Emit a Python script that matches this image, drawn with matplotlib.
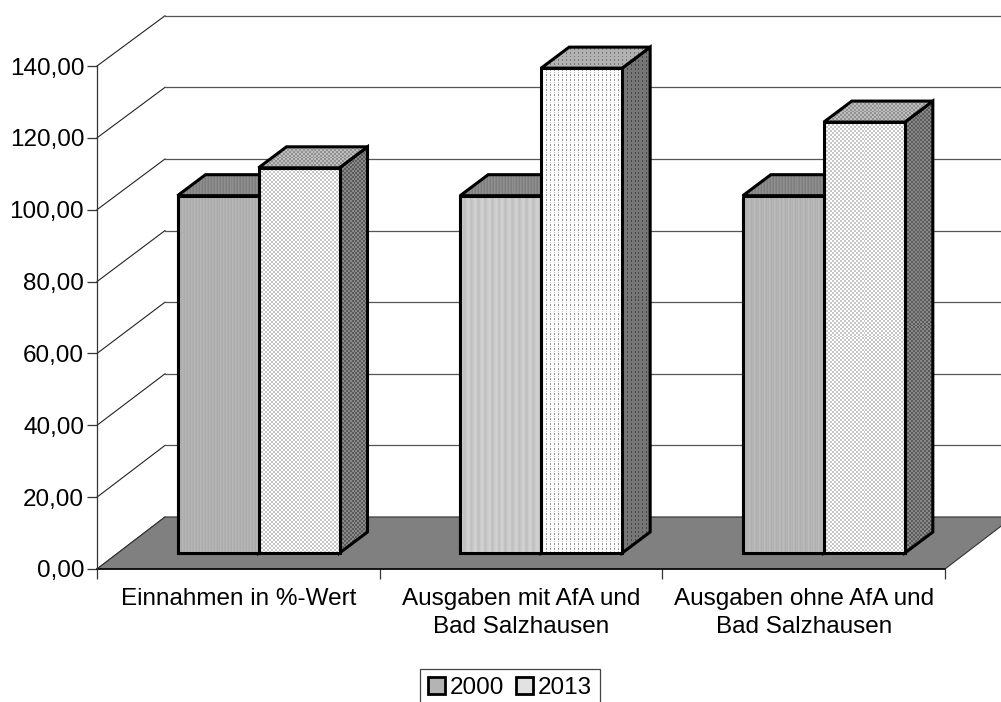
import numpy as np
import matplotlib
matplotlib.use("Agg")
import matplotlib.pyplot as plt
from matplotlib.patches import Polygon, Patch

plt.rcParams["font.family"] = ["Liberation Sans", "DejaVu Sans"]

categories = ["Einnahmen in %-Wert",
              "Ausgaben mit AfA und\nBad Salzhausen",
              "Ausgaben ohne AfA und\nBad Salzhausen"]
series_names = ["2000", "2013"]
values_2000 = [100.0, 100.0, 100.0]
values_2013 = [107.8, 135.7, 120.6]
y_ticks = [0, 20, 40, 60, 80, 100, 120, 140]
y_tick_labels = ["0,00", "20,00", "40,00", "60,00", "80,00", "100,00", "120,00", "140,00"]

W, H = 1001, 702
FONT_SIZE = 17.5
fig = plt.figure(figsize=(W / 100, H / 100), dpi=100, facecolor="white")
# plot box in pixels: x 97..945, y 66..569
ax = fig.add_axes([97 / W, 1 - 569 / H, 848 / W, 503 / H])
ax.set_facecolor("none")

px_x = 3 / 848            # category units per pixel
px_y = 140 / 503          # value units per pixel
WALL_DX, WALL_DY = 68 * px_x, 52 * px_y
WALL_SCALE = 0.9965
BAR_DX, BAR_DY = 19.5 * px_x, 16 * px_y
DEPTH_DX, DEPTH_DY = 28 * px_x, 21 * px_y
BAR_SCALE = 0.9945
GAP = 61 * px_x
BAR_W = 81 * px_x
FLOOR_GRAY = "#808080"


def tile(rows):
    return np.array(rows, dtype=float) / 255


CHECK_FRONT = tile([[255, 255, 198, 198], [255, 255, 198, 198],
                    [198, 198, 255, 255], [198, 198, 255, 255]])
DOT_FRONT = tile([[255, 255, 255, 255], [255, 150, 255, 255], [255, 150, 255, 255],
                  [255, 255, 255, 255], [255, 205, 255, 255]])
CHECK_TOP = tile([[190, 190, 145, 145], [190, 190, 145, 145],
                  [145, 145, 190, 190], [145, 145, 190, 190]])
CHECK_SIDE = tile([[136, 136, 92, 92], [136, 136, 92, 92],
                   [92, 92, 136, 136], [92, 92, 136, 136]])
DOT_TOP = tile([[178, 178, 178, 178], [178, 120, 178, 178], [178, 120, 178, 178],
                [178, 178, 178, 178]])
DOT_SIDE = tile([[118, 118, 118, 118], [118, 70, 118, 118], [118, 70, 118, 118],
                 [118, 118, 118, 118]])
STRIPE_A = tile([[172, 182, 176]])
STRIPE_B = tile([[206, 210, 204, 196, 192, 196, 204]])
STRIPE_C = tile([[178, 188, 182, 174, 182]])
STRIPE_TOP = tile([[126, 142, 134]])

FRONT_2000 = [STRIPE_A, STRIPE_B, STRIPE_C]
FRONT_2013 = [CHECK_FRONT, DOT_FRONT, CHECK_FRONT]
TOP_2013 = [CHECK_TOP, DOT_TOP, CHECK_TOP]
SIDE_2013 = [CHECK_SIDE, DOT_SIDE, CHECK_SIDE]


def textured_poly(points, pattern, z):
    """Fill a polygon given in data coordinates with a pixel-aligned repeating pattern."""
    pts = np.array(points)
    poly = Polygon(pts, closed=True, transform=ax.transData, facecolor="none",
                   edgecolor="black", linewidth=2.2, joinstyle="miter", zorder=z + 0.1)
    ax.add_patch(poly)
    poly.set_clip_on(False)
    l, r = pts[:, 0].min(), pts[:, 0].max()
    b, t = pts[:, 1].min(), pts[:, 1].max()
    nx = int(round((r - l) / px_x)) + 1
    ny = int(round((t - b) / px_y)) + 1
    tiled = np.tile(pattern, (ny // pattern.shape[0] + 1, nx // pattern.shape[1] + 1))[:ny, :nx]
    im = ax.imshow(tiled, cmap="gray", vmin=0, vmax=1, extent=(l, r, b, t),
                   aspect="auto", interpolation="nearest", zorder=z)
    im.set_clip_path(Polygon(pts, closed=True, transform=ax.transData))
    im.set_clip_box(fig.bbox)


def draw_bar(left, value, front, top, side, z):
    x0 = left + BAR_DX
    x1 = x0 + BAR_W
    y0 = BAR_DY
    y1 = BAR_DY + value * BAR_SCALE
    textured_poly([(x1, y0), (x1 + DEPTH_DX, y0 + DEPTH_DY),
                   (x1 + DEPTH_DX, y1 + DEPTH_DY), (x1, y1)], side, z)
    textured_poly([(x0, y1), (x1, y1), (x1 + DEPTH_DX, y1 + DEPTH_DY),
                   (x0 + DEPTH_DX, y1 + DEPTH_DY)], top, z + 0.2)
    textured_poly([(x0, y0), (x1, y0), (x1, y1), (x0, y1)], front, z + 0.4)


# back wall: gridlines with their diagonal returns to the value axis
far_right = 3 + WALL_DX
for v in y_ticks:
    y_back = v * WALL_SCALE + WALL_DY
    ax.plot([0, WALL_DX], [v, y_back], color="#222222", lw=0.8, clip_on=False, zorder=1)
    ax.plot([WALL_DX, far_right], [y_back, y_back], color="#555555", lw=0.9, clip_on=False, zorder=1)

# floor
ax.add_patch(Polygon([(0, 0), (3, 0), (far_right, WALL_DY), (WALL_DX, WALL_DY)], closed=True,
                     facecolor=FLOOR_GRAY, edgecolor="#333333", linewidth=0.8,
                     clip_on=False, zorder=2))
ax.plot([0, 3], [0, 0], color="black", lw=1.1, clip_on=False, zorder=2.5)

# bars, one group per category, drawn back to front
for i, (a, b) in enumerate(zip(values_2000, values_2013)):
    left = i + GAP
    draw_bar(left, a, STRIPE_TOP, STRIPE_TOP, CHECK_SIDE, 3 + i)
    draw_bar(left + BAR_W, b, FRONT_2013[i], TOP_2013[i], SIDE_2013[i], 3.6 + i)
    # re-paint the 2000 face so its right edge stays crisp
    x0 = left + BAR_DX
    y1 = BAR_DY + a * BAR_SCALE
    textured_poly([(x0, BAR_DY), (x0 + BAR_W, BAR_DY), (x0 + BAR_W, y1), (x0, y1)],
                  FRONT_2000[i], 4.3 + i)

ax.set_xlim(0, 3)
ax.set_ylim(0, 140)

for side in ("top", "right"):
    ax.spines[side].set_visible(False)
ax.spines["left"].set_color("#333333")
ax.spines["left"].set_linewidth(0.9)
ax.spines["bottom"].set_visible(False)

ax.set_yticks(y_ticks)
ax.set_yticklabels(y_tick_labels, fontsize=FONT_SIZE, color="black")
ax.tick_params(axis="y", length=7.2, width=0.9, color="#333333", pad=2)

ax.set_xticks([0, 1, 2, 3])
ax.set_xticklabels([])
ax.tick_params(axis="x", which="major", length=7.2, width=0.9, color="#333333")
ax.set_xticks([0.5, 1.5, 2.5], minor=True)
ax.set_xticklabels(categories, minor=True, fontsize=FONT_SIZE, linespacing=1.34)
ax.tick_params(axis="x", which="minor", length=0, pad=13.5)

handles = [Patch(facecolor="#b4b4b4", edgecolor="black", linewidth=2.0),
           Patch(facecolor="#e2e2e2", edgecolor="black", linewidth=2.0)]
leg = fig.legend(handles, series_names, loc="upper center",
                 bbox_to_anchor=(510 / W, 1 - 669 / H), ncol=2, fontsize=FONT_SIZE,
                 fancybox=False, framealpha=1, edgecolor="#444444",
                 handlelength=0.68, handleheight=0.68, handletextpad=0.2,
                 columnspacing=0.5, borderpad=0.34, borderaxespad=0)
leg.get_frame().set_linewidth(0.9)

fig.savefig("out.png", dpi=100, facecolor="white")
